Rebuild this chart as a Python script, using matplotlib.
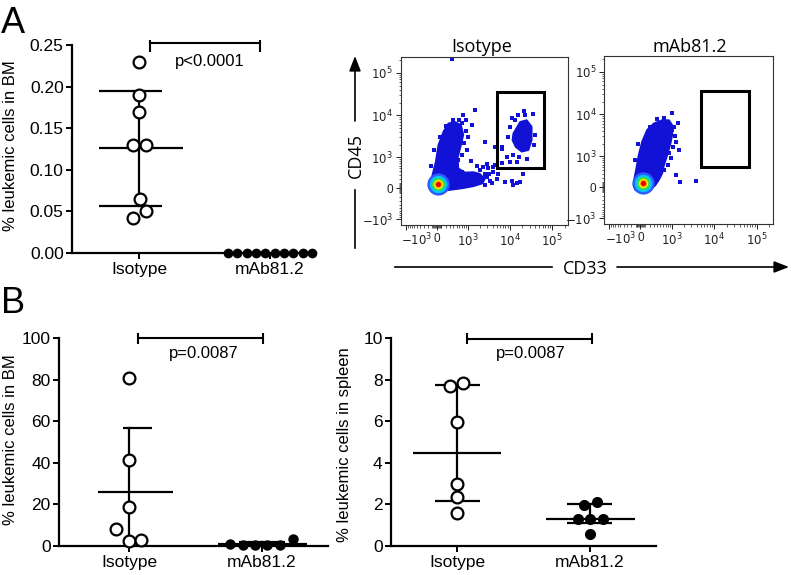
import numpy as np
import matplotlib
matplotlib.use("Agg")
import matplotlib.pyplot as plt
from matplotlib.patches import Polygon, Rectangle

plt.rcParams['font.family'] = ['Liberation Sans', 'DejaVu Sans']

# ----------------------------- DATA -----------------------------
groups = ["Isotype", "mAb81.2"]

# Panel A: % leukemic cells in BM
a_iso = [0.23, 0.19, 0.17, 0.13, 0.13, 0.065, 0.05, 0.042]
a_mab = [0.0, 0.0, 0.0, 0.0, 0.0, 0.0, 0.0, 0.0, 0.0, 0.0]
a_iso_stats = [0.126, 0.057, 0.195]      # centre, lower bar, upper bar
a_mab_stats = [0.0, 0.0, 0.0]
a_pvalue = "p<0.0001"

# Panel B left: % leukemic cells in BM
bbm_iso = [81.0, 41.3, 18.6, 8.2, 2.5, 2.9]
bbm_mab = [1.0, 0.3, 0.3, 0.3, 0.3, 3.2]
bbm_iso_stats = [25.8, -5.3, 56.9]
bbm_mab_stats = [0.9, -0.3, 2.1]
bbm_pvalue = "p=0.0087"

# Panel B right: % leukemic cells in spleen
bsp_iso = [7.7, 7.85, 5.98, 2.98, 2.37, 1.6]
bsp_mab = [1.97, 2.1, 1.3, 1.3, 1.3, 0.58]
bsp_iso_stats = [4.47, 2.16, 7.74]
bsp_mab_stats = [1.31, 1.09, 2.03]
bsp_pvalue = "p=0.0087"

# Flow cytometry, CD33 (x) vs CD45 (y), fluorescence units
iso_main_cd33 = [-144, -106, 34, 260, 698, 1400, 2300, 2600, 2000, 1400, 860, 565,
                 545, 670, 775, 670, 450, 260, 142, 34, -21, -93]
iso_main_cd45 = [27, -78, -91, -42, -6, 40, 100, 200, 330, 380, 370, 500,
                 1000, 1980, 3480, 5900, 7000, 6450, 4100, 1980, 760, 295]
iso_clu_cd33 = [12300, 17800, 25400, 33300, 33300, 28000, 19400, 14000, 11700]
iso_clu_cd45 = [3750, 7000, 7721, 5400, 2600, 1500, 1370, 1780, 2600]
iso_ev_cd33 = [698, 946, 1263, 1380, 1830, 2020, 2410, 2640, 3160, 3810, 4150, 4560,
               5450, 6556, 7900, 11275, 12300, 14783, 17800, 21200, 2640, 1520, 775,
               1263, 900, 4560, 6556, 8594, 10200, 14783, 15900, 11275, 36000, 23200,
               565, 698, 10200, 9400, 12300, 39000, 37800, 25400, 16700, 22000, 13400,
               6800, 351, 900, 1000, 820, 950, 700, 600, 380, 200, 60, -60, -130,
               1200, 1700, 2300, 3000, 4000, 2900, 3400, 3300, 2700, 5000]
iso_ev_cd45 = [390, 250, 340, 173, 295, 441, 212, 340, 500, 100, 390, 620,
               340, 690, 135, 150, 63, 100, 135, 340, 2300, 13270, 10400,
               5900, 7721, 1780, 1630, 1030, 760, 760, 10400, 8800, 10900, 10400,
               842, 1130, 5400, 3150, 1130, 3480, 1980, 900, 1030, 12400, 7721,
               1780, 215000, 4300, 3000, 2200, 1500, 6600, 7800, 7600, 5600, 3000,
               1500, 600, 800, 600, 560, 650, 550, 250, 150, 330, 60, 200]
iso_core = [34, 78]

mab_main_cd33 = [-144, -106, 36, 221, 351, 450, 570, 640, 780, 946, 1045, 1045,
                 860, 570, 305, 144, 36, -36, -85, -128]
mab_main_cd45 = [42, -63, -100, -63, 42, 150, 315, 581, 1063, 2050, 3234, 5571,
                 7300, 7300, 6100, 4300, 2270, 1063, 470, 190]
mab_ev_cd33 = [1045, 1440, 1520, 860, 508, 640, 1263, 1590, 3950, 780, 698, 535, 420,
               1045, 1150, 1200, 1100, 950, 800, 650, 400, 200, -40, -110, 1300]
mab_ev_cd45 = [10900, 6100, 1400, 1170, 581, 400, 270, 114, 130, 2700, 3900, 720, 200,
               4300, 5000, 3000, 1700, 900, 600, 8400, 7600, 5000, 2000, 800, 2200]
mab_core = [49, 78]

gate_cd33 = [5100, 65000]
gate_cd45 = [510, 36000]

# ----------------------------- LAYOUT -----------------------------
W, H = 793, 575
fig = plt.figure(figsize=(W / 100, H / 100), dpi=100)


def add_ax(x0, y0, x1, y1):
    return fig.add_axes([x0 / W, 1 - y1 / H, (x1 - x0) / W, (y1 - y0) / H])


# horizontal jitter of the dots (layout only)
a_iso_dx = [0.0, 0.0, 0.0, -0.046, 0.05, 0.008, 0.05, -0.048]
a_mab_dx = [-0.32, -0.249, -0.178, -0.107, -0.036, 0.036, 0.107, 0.178, 0.249, 0.32]
bbm_iso_dx = [0.0, 0.0, 0.0, -0.10, 0.0, 0.09]
bbm_mab_dx = [-0.24, -0.145, -0.053, 0.035, 0.135, 0.23]
bsp_iso_dx = [-0.053, 0.045, 0.0, 0.0, 0.0, 0.0]
bsp_mab_dx = [-0.043, 0.053, -0.089, 0.0, 0.098, 0.0]

LW = 1.6


def style_dot_axes(ax, xlim, ylim, yticks, fmt):
    ax.set_xlim(*xlim)
    ax.set_ylim(*ylim)
    ax.patch.set_alpha(0)
    for s in ('top', 'right'):
        ax.spines[s].set_visible(False)
    for s in ('left', 'bottom'):
        ax.spines[s].set_linewidth(LW)
    ax.set_xticks([0, 1])
    ax.set_xticklabels(groups)
    ax.set_yticks(yticks)
    ax.set_yticklabels([fmt.format(v) for v in yticks])
    ax.tick_params(axis='both', width=1.4, length=4, labelsize=12.5, direction='out')
    ax.tick_params(axis='x', pad=2.5)
    ax.tick_params(axis='y', pad=2)


def summary(ax, xc, stats, mean_span, cap_span):
    c, lo, hi = stats
    ax.plot([xc + mean_span[0], xc + mean_span[1]], [c, c], color='k', lw=LW,
            solid_capstyle='butt', zorder=2)
    ax.plot([xc, xc], [max(lo, 0), hi], color='k', lw=LW, zorder=2)
    for v in (lo, hi):
        if v >= 0:
            ax.plot([xc + cap_span[0], xc + cap_span[1]], [v, v], color='k', lw=LW,
                    solid_capstyle='butt', zorder=2)


def dots(ax, xc, vals, dx, filled, ms):
    xs = [xc + d for d in dx]
    if filled:
        ax.plot(xs, vals, 'o', color='k', ms=ms, mew=0, clip_on=False, zorder=3)
    else:
        ax.plot(xs, vals, 'o', mfc='white', mec='k', mew=1.6, ms=ms, clip_on=False, zorder=3)


# Panel A dot plot
axA = add_ax(72, 45, 313, 253)
style_dot_axes(axA, (-0.511, 1.328), (0, 0.25), [0, 0.05, 0.10, 0.15, 0.20, 0.25], "{:.2f}")
summary(axA, 0, a_iso_stats, (-0.305, 0.336), (-0.305, 0.176))
dots(axA, 0, a_iso, a_iso_dx, False, 8.5)
dots(axA, 1, a_mab, a_mab_dx, True, 7.0)

# Panel B BM
axB1 = add_ax(59, 338, 328, 546)
style_dot_axes(axB1, (-0.526, 1.496), (0, 100), [0, 20, 40, 60, 80, 100], "{:d}")
summary(axB1, 0, bbm_iso_stats, (-0.233, 0.33), (-0.045, 0.173))
summary(axB1, 1, bbm_mab_stats, (-0.33, 0.34), (-0.17, 0.17))
dots(axB1, 0, bbm_iso, bbm_iso_dx, False, 8.5)
dots(axB1, 1, bbm_mab, bbm_mab_dx, True, 7.5)

# Panel B spleen
axB2 = add_ax(391, 338, 656, 546)
style_dot_axes(axB2, (-0.5, 1.5), (0, 10), [0, 2, 4, 6, 8, 10], "{:d}")
summary(axB2, 0, bsp_iso_stats, (-0.333, 0.333), (-0.17, 0.17))
summary(axB2, 1, bsp_mab_stats, (-0.33, 0.34), (-0.17, 0.17))
dots(axB2, 0, bsp_iso, bsp_iso_dx, False, 8.5)
dots(axB2, 1, bsp_mab, bsp_mab_dx, True, 8.0)

# ----------------------------- FLOW PLOTS -----------------------------
C = 388.0


def fwd(v):
    return np.arcsinh(np.asarray(v, dtype=float) / C)


def inv(t):
    return C * np.sinh(np.asarray(t, dtype=float))


major = [-1000, 0, 1000, 10000, 100000]
major_lab = [r'$-10^3$', '0', r'$10^3$', r'$10^4$', r'$10^5$']
minor = ([-100 * k for k in range(1, 10)] + [-80, -60, -40, -20, 20, 40, 60, 80]
         + [100 * k for k in range(1, 10)] + [1000 * k for k in range(2, 10)]
         + [10000 * k for k in range(2, 10)] + [200000])
BLUE = '#1212d6'
glow = [(16, '#2a5cff'), (12.5, '#00c8ff'), (9.5, '#3ad84a'), (6.8, '#f2f200'),
        (4.8, '#ff7a00'), (3.5, '#e60000')]
TICK_FS = 8.5


def flow_panel(ax, m33, m45, e33, e45, core, c33=None, c45=None):
    ax.set_xscale('function', functions=(fwd, inv))
    ax.set_yscale('function', functions=(fwd, inv))
    ax.set_xlim(-1340, 238000)
    ax.set_ylim(-1400, 235000)
    ax.add_patch(Polygon(np.column_stack([m33, m45]), closed=True, fc=BLUE, ec=BLUE,
                         lw=1.2, joinstyle='round', zorder=2))
    if c33 is not None:
        ax.add_patch(Polygon(np.column_stack([c33, c45]), closed=True, fc=BLUE, ec=BLUE,
                             lw=1.2, joinstyle='round', zorder=2))
    ax.plot(e33, e45, 's', ms=2.3, color=BLUE, mew=0, zorder=2)
    for d, col in glow:
        ax.plot([core[0]], [core[1]], 'o', ms=d, color=col, mew=0, zorder=3)
    ax.add_patch(Rectangle((gate_cd33[0], gate_cd45[0]), gate_cd33[1] - gate_cd33[0],
                           gate_cd45[1] - gate_cd45[0], fill=False, ec='black', lw=2.2,
                           zorder=4))
    ax.set_xticks(major)
    ax.set_xticklabels([''] + major_lab[1:])
    ax.set_yticks(major)
    ax.set_yticklabels(major_lab)
    ax.set_xticks(minor, minor=True)
    ax.set_yticks(minor, minor=True)
    ax.tick_params(which='major', length=3.5, width=0.7, labelsize=TICK_FS, pad=2,
                   colors='#222222')
    ax.tick_params(which='minor', length=1.8, width=0.5, colors='#222222')
    # the -10^3 label of the x axis sits a little to the right of its tick
    ax.annotate(major_lab[0], xy=(major[0], 0), xycoords=('data', 'axes fraction'),
                xytext=(8.0, -5.0), textcoords='offset points', ha='center', va='top',
                fontsize=TICK_FS, color='#222222')
    for s in ax.spines.values():
        s.set_linewidth(0.8)
        s.set_color('#333333')


flI = add_ax(400.7, 57, 568, 225)
flow_panel(flI, iso_main_cd33, iso_main_cd45, iso_ev_cd33, iso_ev_cd45, iso_core,
           iso_clu_cd33, iso_clu_cd45)
flM = add_ax(604, 56, 772.7, 224)
flow_panel(flM, mab_main_cd33, mab_main_cd45, mab_ev_cd33, mab_ev_cd45, mab_core)

# ----------------------------- OVERLAY (annotations) -----------------------------
ov = fig.add_axes([0, 0, 1, 1])
ov.set_xlim(0, W)
ov.set_ylim(H, 0)
ov.axis('off')
ov.patch.set_alpha(0)

# panel letters
ov.text(1, 33, 'A', fontsize=26, ha='left', va='baseline')
ov.text(1, 313, 'B', fontsize=26, ha='left', va='baseline')

# y labels
ov.text(11, 146, '% leukemic cells in BM', rotation=90, ha='center', va='center', fontsize=12)
ov.text(11, 440, '% leukemic cells in BM', rotation=90, ha='center', va='center', fontsize=12)
ov.text(345, 445, '% leukemic cells in spleen', rotation=90, ha='center', va='center',
        fontsize=12)


def bracket(x0, x1, y, t0, t1, label, tx, ty):
    ov.plot([x0, x1], [y, y], color='k', lw=1.5, solid_capstyle='butt')
    for x in (x0, x1):
        ov.plot([x, x], [t0, t1], color='k', lw=1.5, solid_capstyle='butt')
    ov.text(tx, ty, label, fontsize=12, ha='center', va='baseline')


bracket(150, 260, 43, 39.5, 51.5, a_pvalue, 210, 66)
bracket(138.3, 263.3, 338.3, 333, 343.5, bbm_pvalue, 204, 358)
bracket(467.3, 592, 339, 333, 344, bsp_pvalue, 531, 358)

# flow titles and axis arrows
FF = ['Open Sans', 'DejaVu Sans']
ov.text(481.7, 51.5, groups[0], fontsize=13, ha='center', va='baseline', family=FF)
ov.text(690, 52, groups[1], fontsize=13, ha='center', va='baseline', family=FF)

ov.plot([355, 355], [248, 190], color='k', lw=1.2)
ov.annotate('', xy=(355, 56), xytext=(355, 121),
            arrowprops=dict(arrowstyle='-|>,head_length=0.9,head_width=0.35', lw=1.2,
                            color='k', shrinkA=0, shrinkB=0))
ov.text(356, 155, 'CD45', rotation=90, ha='center', va='center', fontsize=13, family=FF)

ov.plot([395, 552], [267, 267], color='k', lw=1.2)
ov.annotate('', xy=(789, 267), xytext=(617, 267),
            arrowprops=dict(arrowstyle='-|>,head_length=0.9,head_width=0.35', lw=1.2,
                            color='k', shrinkA=0, shrinkB=0))
ov.text(585, 268.5, 'CD33', ha='center', va='center', fontsize=13, family=FF)

fig.savefig('out.png', dpi=100)
